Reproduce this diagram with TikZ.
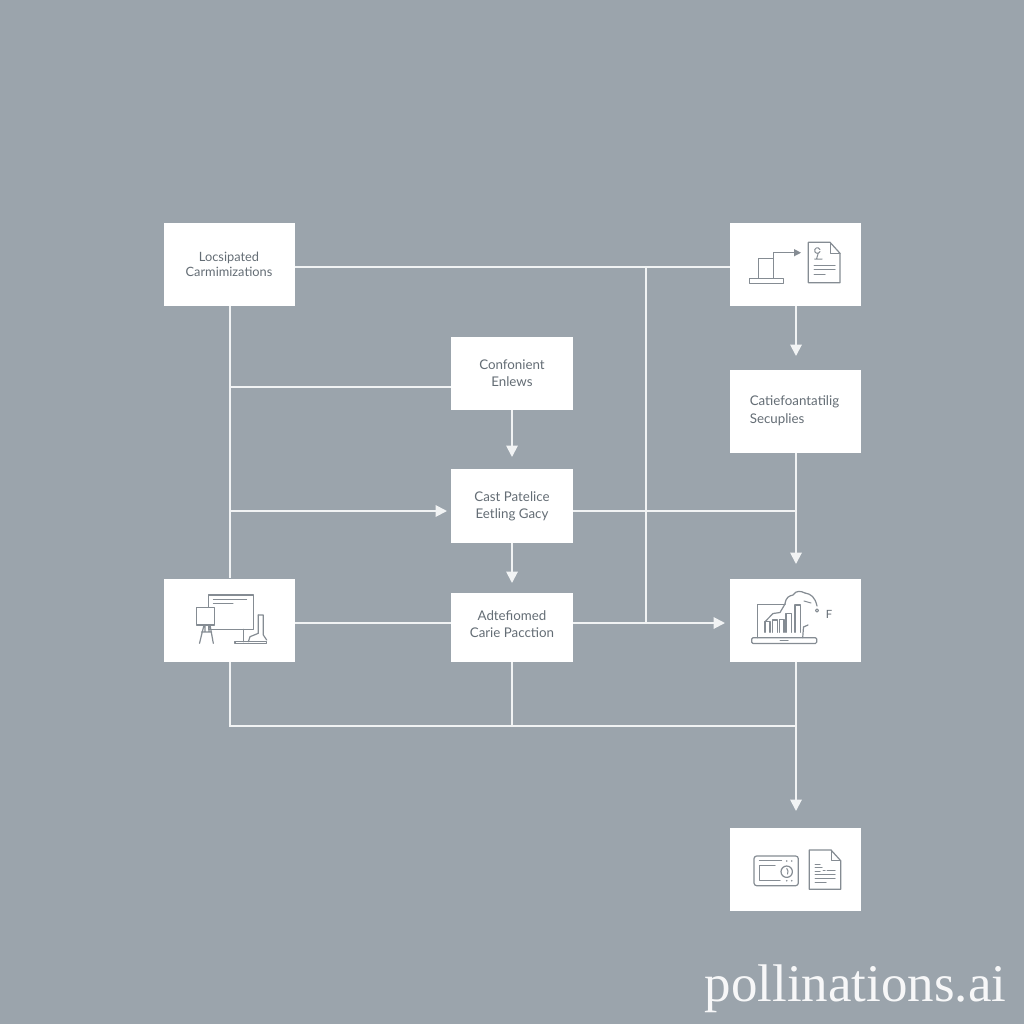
\documentclass[tikz,border=0pt]{standalone}
\usepackage{fontspec}
\setmainfont{Lato}
\newfontfamily\wmfont{Liberation Serif}
\usetikzlibrary{arrows.meta}
\definecolor{bgc}{HTML}{9BA4AC}
\definecolor{linec}{HTML}{F1F3F4}
\definecolor{txtc}{HTML}{646D75}
\definecolor{iconc}{HTML}{858C93}
\tikzset{
  boxa/.style={fill=white,draw=none,inner sep=0pt,text=txtc,align=center,minimum width=98.25pt,minimum height=62.25pt,font=\fontsize{9.6}{11.6}\selectfont},
  boxb/.style={boxa,minimum width=91.5pt,minimum height=55pt,font=\fontsize{10}{13}\selectfont},
  textonly/.style={inner sep=0pt,text=txtc,align=center,font=\fontsize{10}{12.8}\selectfont},
  conn/.style={draw=linec,line width=1.4pt},
  arr/.style={conn,-{Triangle[length=8.5pt,width=8.5pt]}},
  icon/.style={draw=iconc,line width=0.9pt,line join=round,line cap=round},
  thinicon/.style={icon,line width=0.75pt}
}
\begin{document}
\begin{tikzpicture}[x=0.75pt,y=-0.75pt]
\useasboundingbox (0,0) rectangle (1024,1024);
\fill[bgc] (0,0) rectangle (1024,1024);
% boxes
\node[boxa] (A) at (229,264.5) {Locsipated\\Carmimizations};
\node[boxa] (B) at (795.5,264.5) {};
\node[boxb] (C) at (512,373.5) {Confonient\\Enlews};
\node[boxa] (D) at (795.5,411) {};
\node[textonly,align=left,font=\fontsize{10}{13.5}\selectfont] (Dt) at (794.5,411) {Catiefoantatilig\\Secuplies};
\node[boxb] (E) at (512,506) {Cast Patelice\\Eetling Gacy};
\node[boxa] (F) at (229,620) {};
\node[boxb,minimum height=51.75pt] (G) at (512,627.5) {};
\node[textonly] (Gt) at (512,624.5) {Adtefiomed\\Carie Pacction};
\node[boxa] (H) at (795.5,620) {};
\node[boxa] (I) at (795.5,869) {};
% junctions and free ends
\coordinate (jtop) at (646,267);
\coordinate (jl) at (230,387);
\coordinate (jm) at (230,511);
\coordinate (am) at (447,511);
\coordinate (jr) at (796,511);
\coordinate (jg) at (646,623);
\coordinate (ah) at (725,623);
\coordinate (jb) at (230,726);
\coordinate (jc) at (512,726);
\coordinate (jd) at (796,726);
\coordinate (ab) at (796,356);
\coordinate (ad) at (796,564);
\coordinate (ae) at (512,457);
\coordinate (ag) at (512,583);
\coordinate (ai) at (796,811);
% connectors
\draw[conn] (A.east|-jtop) -- (B.west|-jtop);
\draw[conn] (jtop) -- (jg);
\draw[conn] (jl|-A.south) -- (jl|-F.north);
\draw[conn] (C.west|-jl) -- (jl);
\draw[arr] (jm) -- (am);
\draw[conn] (E.east|-jr) -- (jr);
\draw[arr] (ae|-C.south) -- (ae);
\draw[arr] (ag|-E.south) -- (ag);
\draw[arr] (ab|-B.south) -- (ab);
\draw[arr] (ad|-D.south) -- (ad);
\draw[conn] (F.east|-ah) -- (G.west|-ah);
\draw[arr] (G.east|-ah) -- (ah);
\draw[conn] (jb|-F.south) -- (jb) -- (jd);
\draw[conn] (jc|-G.south) -- (jc);
\draw[arr] (ai|-H.south) -- (ai);
% icon top right
\draw[icon] (749.3,278.3) rectangle (783.3,283.3);
\draw[icon] (758.3,278.3) -- (758.3,258.3) -- (773.3,258.3) -- (773.3,278.3);
\draw[icon] (773.3,258.3) -- (773.3,252.7) -- (795,252.7);
\fill[iconc] (794,249) -- (801,252.7) -- (794,256.4) -- cycle;
\draw[icon] (808.3,242.3) -- (830,242.3) -- (840,253.3) -- (840,282.7) -- (808.3,282.7) -- cycle;
\draw[thinicon] (830,242.3) -- (830,253.3) -- (840,253.3);
\draw[thinicon] (814,265) -- (835,265) (814,269.3) -- (835,269.3) (814,274) -- (825,274);
\draw[thinicon] (820,251.5) arc (20:340:2.8) (814.5,259) -- (822,259) (818,254) -- (816.5,259);
% icon left
\draw[icon] (208.3,595) rectangle (253.3,629.3);
\draw[thinicon] (213.3,599.3) -- (246.7,599.3) (213.3,603.3) -- (233,603.3);
\draw[icon,fill=white] (196.7,607.3) rectangle (214.3,625);
\draw[icon] (204,625) -- (199.5,643.3) (210,625) -- (213.3,643.3) (201.5,632) -- (211.5,632) (205,625)--(205,632) (209,625)--(209,632);
\draw[icon] (243.3,629.3) -- (243.3,641.7);
\draw[icon] (235,641.7) -- (266.7,641.7) -- (266.7,643.3) -- (235,643.3) -- cycle;
\draw[icon] (258.3,615) -- (263.3,615) -- (263.3,635) -- (266.7,640);
\draw[icon] (258.3,615) -- (258.3,633.3) -- (250,636.7) -- (248.3,641.7);
% icon laptop
\draw[icon] (785,604.3) -- (757.3,604.3) -- (757.3,637.7);
\draw[icon,rounded corners=1pt] (751.7,637.7) rectangle (816.7,643.5);
\draw[thinicon] (780,640.5) -- (788,640.5);
\draw[icon] (808,625) -- (803.5,627) -- (802.7,637.7);
\foreach \xa/\xb/\yt in {765/770/621.7,772.7/777.3/620,779.3/784/619.3,786/791.7/613.3,795/800.7/605}{
  \draw[icon] (\xa,632.3) -- (\xa,\yt) -- (\xb,\yt) -- (\xb,632.3);
}
\draw[icon] (765,621.7) -- (773,613.5) -- (780,612.5) -- (785,604);
\draw[icon] (785,604) .. controls (786,597) and (789,596) .. (793,595) .. controls (796,590) and (801,591) .. (805,593);
\draw[icon] (805,593) .. controls (811,594) and (815,597) .. (817,606);
\draw[thinicon] (804,601) -- (811,603);
\draw[thinicon] (817,610.5) circle (1.6);
\node[inner sep=0pt,text=txtc,font=\fontsize{8.5}{10}\selectfont] (Hf) at (829,614.5) {F};
% icon bottom
\draw[icon,rounded corners=2pt] (754,856) rectangle (798.3,885.7);
\draw[thinicon] (759.3,860.7) -- (781.7,860.7);
\draw[thinicon] (775,865) -- (759.3,865) -- (759.3,880.7) -- (780,880.7);
\draw[icon] (786.7,871.7) circle (5.7);
\draw[thinicon] (786.7,868.5) -- (788,871) -- (787.5,874);
\fill[iconc] (786.7,861) circle (0.9) (791.7,861) circle (0.9) (786.7,880.7) circle (0.9) (791.7,880.7) circle (0.9);
\draw[icon] (809.3,850) -- (831,850) -- (840.7,860.7) -- (840.7,889.3) -- (809.3,889.3) -- cycle;
\draw[thinicon] (831,850) -- (831,860.7) -- (840.7,860.7);
\draw[thinicon] (815,864) -- (820,864) (815,867.5) -- (822,867.5) (815,871) -- (820,871) (823,870) -- (825,870) (827,870) -- (835,870) (815,874.5) -- (835,874.5) (815,878.5) -- (835,878.5) (815,882.5) -- (826,882.5);
% watermark
\node[anchor=base west,inner sep=0pt,text=white,opacity=0.92,font=\fontsize{39.7}{40}\selectfont\wmfont] (W) at (704.5,1001) {pollinations.ai};
\end{tikzpicture}
\end{document}
